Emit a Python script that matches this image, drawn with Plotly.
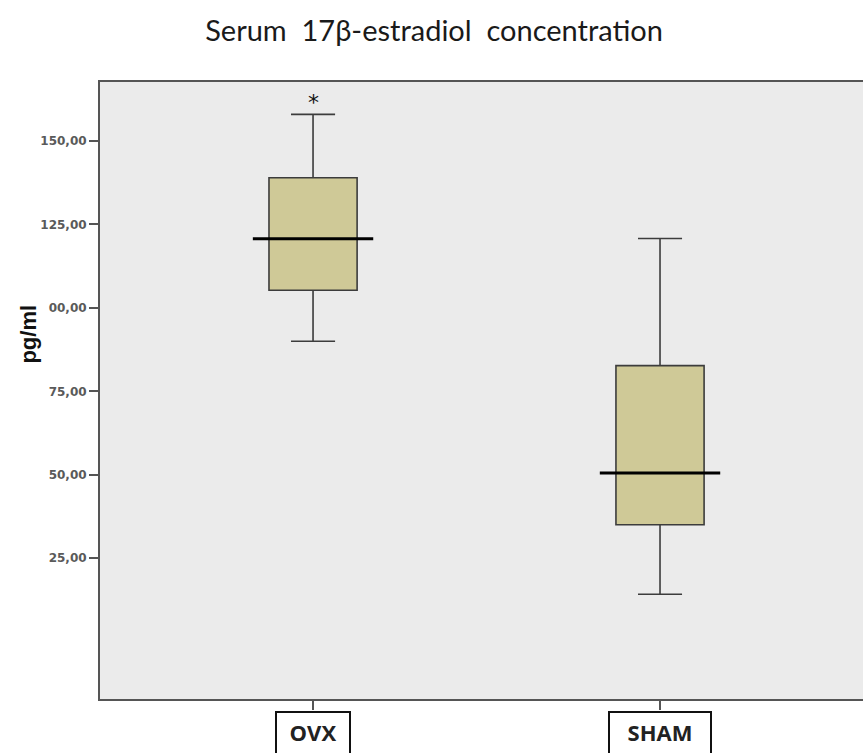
import plotly.graph_objects as go

# ---- data ----
categories = ["OVX", "SHAM"]
lower_whisker = [90.0, 14.2]
q1_values = [105.3, 35.0]
medians = [120.7, 50.5]
q3_values = [139.0, 82.7]
upper_whisker = [158.0, 120.8]
tick_values = [25, 50, 75, 100, 125, 150]
tick_labels = ["25,00", "50,00", "75,00", "00,00", "125,00", "150,00"]
title_text = "Serum  17\u03b2-estradiol  concentration"
y_title = "pg/ml"
significance_marks = ["*", ""]

BOX_FILL = "rgb(207,201,151)"
EDGE = "#3c3c3c"
BG = "#ebebeb"

fig = go.Figure()

fig.add_trace(go.Box(
    x=categories,
    q1=q1_values,
    median=medians,
    q3=q3_values,
    lowerfence=lower_whisker,
    upperfence=upper_whisker,
    fillcolor=BOX_FILL,
    line=dict(color=EDGE, width=1.6),
    width=0.254,
    whiskerwidth=0.5,
    boxpoints=False,
    showlegend=False,
    hoverinfo="skip",
))

# thicker black median lines
fig.add_trace(go.Scatter(
    x=categories,
    y=medians,
    mode="markers",
    marker=dict(symbol="line-ew", size=86, line=dict(color="black", width=3)),
    showlegend=False,
    hoverinfo="skip",
))

fig.update_layout(
    width=863,
    height=753,
    margin=dict(l=100, r=0, t=82, b=54),
    paper_bgcolor="white",
    plot_bgcolor=BG,
    title=dict(
        text=title_text,
        x=0.503,
        xanchor="center",
        y=1 - 31 / 753,
        yref="container",
        yanchor="middle",
        font=dict(family="Lato", size=29, color="#1a1a1a"),
    ),
)

fig.update_xaxes(
    type="category",
    range=[-0.614, 1.585],
    showticklabels=False,
    ticks="outside",
    ticklen=9,
    tickwidth=2,
    tickcolor="#555555",
    showline=True,
    linecolor="#555555",
    linewidth=2,
    mirror=True,
    showgrid=False,
    zeroline=False,
)

fig.update_yaxes(
    range=[-17.2, 167.7],
    tickmode="array",
    tickvals=tick_values,
    ticktext=["<b>%s</b>" % t for t in tick_labels],
    ticks="outside",
    ticklen=9,
    tickwidth=2,
    tickcolor="#555555",
    tickfont=dict(family="DejaVu Sans", size=12, color="#5a5a5a"),
    showline=True,
    linecolor="#555555",
    linewidth=2,
    mirror=False,
    showgrid=False,
    zeroline=False,
)

annotations = []
# y axis title
annotations.append(dict(
    text="<b>%s</b>" % y_title,
    xref="paper", yref="y",
    x=0, y=92, xanchor="center", yanchor="middle",
    xshift=-71,
    textangle=-90,
    showarrow=False,
    font=dict(family="Liberation Sans", size=22, color="#111111"),
))

# category labels in boxes
label_widths = [64, 92]
for cat, w in zip(categories, label_widths):
    annotations.append(dict(
        text="<b>%s</b>" % cat,
        x=cat, xref="x",
        y=0, yref="paper",
        xanchor="center", yanchor="top",
        yshift=-12,
        showarrow=False,
        width=w, height=44, valign="top",
        borderpad=4,
        bordercolor="#111111", borderwidth=2,
        bgcolor="white",
        font=dict(family="Open Sans", size=22, color="#222222"),
    ))

# significance marks above the upper whisker
for cat, up, mark in zip(categories, upper_whisker, significance_marks):
    if mark:
        annotations.append(dict(
            text=mark,
            x=cat, xref="x",
            y=up, yref="y",
            xanchor="center", yanchor="bottom",
            yshift=-3,
            showarrow=False,
            font=dict(family="DejaVu Sans", size=22, color="#111111"),
        ))

fig.update_layout(annotations=annotations)

fig.write_html(
    "out.html",
    config={"displayModeBar": False},
    post_script="document.body.style.margin='0';document.body.style.overflow='hidden';",
)
